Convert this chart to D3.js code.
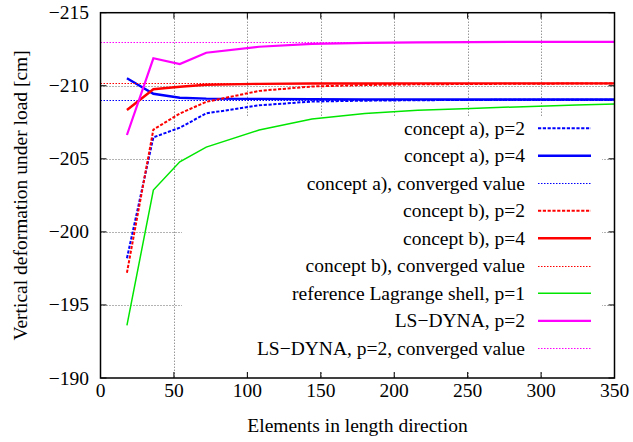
<!DOCTYPE html>
<html><head><meta charset="utf-8">
<script src="https://cdn.jsdelivr.net/npm/d3@7"></script>
<style>body{margin:0;background:#fff}svg{display:block}</style>
</head><body><svg id="c" width="633" height="442"></svg>
<script>
const elements = [18, 36, 54, 72, 108, 144, 180, 216, 252, 288, 324, 360];
const conceptA_p2 = [-198.2, -206.47, -207.13, -208.11, -208.66, -208.92, -208.98, -209.01, -209.03, -209.04, -209.05, -209.05];
const conceptA_p4 = [-210.51, -209.45, -209.18, -209.12, -209.1, -209.08, -209.07, -209.07, -209.06, -209.06, -209.06, -209.06];
const conceptA_conv = -209.05;
const conceptB_p2 = [-197.2, -207.0, -208.1, -208.9, -209.65, -209.95, -210.05, -210.1, -210.12, -210.14, -210.15, -210.15];
const conceptB_p4 = [-208.34, -209.76, -209.93, -210.07, -210.13, -210.15, -210.15, -210.16, -210.16, -210.16, -210.16, -210.16];
const conceptB_conv = -210.16;
const lagrange_p1 = [-193.6, -202.86, -204.8, -205.8, -206.97, -207.72, -208.1, -208.32, -208.45, -208.57, -208.68, -208.78];
const lsdyna_p2 = [-206.63, -211.88, -211.49, -212.26, -212.67, -212.87, -212.93, -212.97, -212.99, -213.0, -213.0, -213.0];
const lsdyna_conv = -213.02;
const xTicks = [0, 50, 100, 150, 200, 250, 300, 350];
const yTicks = [-215, -210, -205, -200, -195, -190];
const legendLabels = ["concept a), p=2", "concept a), p=4", "concept a), converged value",
  "concept b), p=2", "concept b), p=4", "concept b), converged value",
  "reference Lagrange shell, p=1", "LS\u2212DYNA, p=2", "LS\u2212DYNA, p=2, converged value"];

const FONT = "'Liberation Serif', 'DejaVu Serif', serif";
const svg = d3.select("#c").attr("font-family", FONT).attr("font-size", 19.5);
const L = 100.5, R = 614.5, T = 12.7, B = 378;
const x = d3.scaleLinear().domain([0, 350]).range([L, R]);
const y = d3.scaleLinear().domain([-215, -190]).range([T, B]);
const crisp = v => Math.round(v) + 0.5;

const styles = [
  {color: "#0000ff", w: 2, dash: "3.2,1.6"},
  {color: "#0000ff", w: 2.4, dash: null},
  {color: "#0000ff", w: 1, dash: "1.5,1.5", thin: true},
  {color: "#ff0000", w: 2, dash: "3.2,1.6"},
  {color: "#ff0000", w: 2.4, dash: null},
  {color: "#ff0000", w: 1, dash: "1.5,1.5", thin: true},
  {color: "#00e600", w: 1.5, dash: null},
  {color: "#ff00ff", w: 2.2, dash: null},
  {color: "#ff00ff", w: 1, dash: "1.5,1.5", thin: true}
];
const series = [conceptA_p2, conceptA_p4, conceptA_conv, conceptB_p2, conceptB_p4, conceptB_conv, lagrange_p1, lsdyna_p2, lsdyna_conv];

svg.append("defs").append("clipPath").attr("id", "clip")
  .append("rect").attr("x", L).attr("y", T).attr("width", R - L).attr("height", B - T);

// grid
const grid = svg.append("g").attr("stroke", "#666").attr("stroke-width", 1).attr("stroke-dasharray", "1,2");
xTicks.slice(1, -1).forEach(t => grid.append("line").attr("x1", crisp(x(t))).attr("x2", crisp(x(t))).attr("y1", T).attr("y2", B));
yTicks.slice(1, -1).forEach(t => grid.append("line").attr("y1", crisp(y(t))).attr("y2", crisp(y(t))).attr("x1", L).attr("x2", R));

// legend background (opaque key)
svg.append("rect").attr("x", 182).attr("y", 116).attr("width", 602 - 182).attr("height", 371 - 116).attr("fill", "#fff");

// data
const plot = svg.append("g").attr("clip-path", "url(#clip)");
const line = d3.line().x((d, i) => x(elements[i])).y(d => y(d));
series.forEach((s, k) => {
  const st = styles[k];
  let p;
  if (Array.isArray(s)) {
    p = plot.append("path").attr("d", line(s));
  } else {
    p = plot.append("line").attr("x1", x(0)).attr("x2", x(350)).attr("y1", crisp(y(s))).attr("y2", crisp(y(s)));
  }
  p.attr("fill", "none").attr("stroke", st.color).attr("stroke-width", st.w);
  if (st.dash) p.attr("stroke-dasharray", st.dash);
});

// legend
const lg = svg.append("g");
legendLabels.forEach((lab, i) => {
  const cy = 128.3 + i * 27.5;
  lg.append("text").attr("x", 525).attr("y", cy + 6.5).attr("text-anchor", "end").text(lab);
  const st = styles[i];
  const ly = st.thin ? crisp(cy) : cy;
  const l = lg.append("line").attr("x1", 538).attr("x2", 591).attr("y1", ly).attr("y2", ly)
    .attr("stroke", st.color).attr("stroke-width", st.w);
  if (st.dash) l.attr("stroke-dasharray", st.dash);
});

// axes with inward ticks on all sides
const tick = 6;
const ax = svg.append("g").attr("stroke", "#000").attr("stroke-width", 1);
xTicks.forEach(t => {
  ax.append("line").attr("x1", x(t)).attr("x2", x(t)).attr("y1", B).attr("y2", B - tick);
  ax.append("line").attr("x1", x(t)).attr("x2", x(t)).attr("y1", T).attr("y2", T + tick);
});
yTicks.forEach(t => {
  ax.append("line").attr("y1", y(t)).attr("y2", y(t)).attr("x1", L).attr("x2", L + tick);
  ax.append("line").attr("y1", y(t)).attr("y2", y(t)).attr("x1", R).attr("x2", R - tick);
});
svg.append("rect").attr("x", L).attr("y", T).attr("width", R - L).attr("height", B - T)
  .attr("fill", "none").attr("stroke", "#000").attr("stroke-width", 1.5);

svg.append("g").selectAll("text").data(xTicks).join("text")
  .attr("x", d => x(d)).attr("y", 397).attr("text-anchor", "middle").text(d => d);
svg.append("g").selectAll("text").data(yTicks).join("text")
  .attr("x", 89).attr("y", d => y(d) + 6.5).attr("text-anchor", "end").text(d => "\u2212" + Math.abs(d));

svg.append("text").attr("x", (L + R) / 2).attr("y", 432).attr("text-anchor", "middle").text("Elements in length direction");
svg.append("text").attr("transform", "translate(27," + ((T + B) / 2) + ") rotate(-90)").attr("text-anchor", "middle")
  .text("Vertical deformation under load [cm]");
</script></body></html>
